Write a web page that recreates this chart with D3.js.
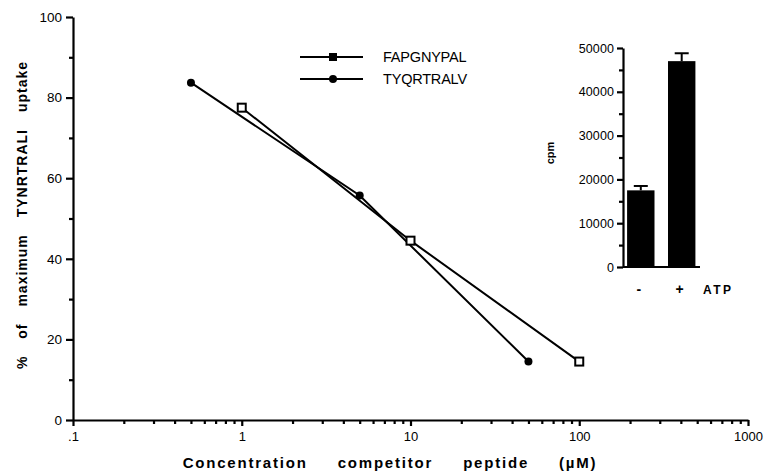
<!DOCTYPE html>
<html>
<head>
<meta charset="utf-8">
<script src="https://cdn.jsdelivr.net/npm/d3@7"></script>
<style>
  body { margin: 0; background: #fff; overflow: hidden; }
  svg { display: block; font-family: "Liberation Sans", Arial, sans-serif; }
  .tick line, .domain { stroke: #000 !important; stroke-width: 2.2px !important; }
</style>
</head>
<body>
<script>
// main chart data
const fapConc = [1, 10, 100];
const fapUptake = [77.5, 44.5, 14.5];
const tyqConc = [0.5, 5, 50];
const tyqUptake = [83.7, 55.7, 14.5];
const seriesNames = ['FAPGNYPAL', 'TYQRTRALV'];

// inset bar data
const insetCats = ['-', '+'];
const insetCpm = [17500, 47000];
const insetErr = [1000, 1800];

const yTicks = [0, 20, 40, 60, 80, 100];
const xTicks = [0.1, 1, 10, 100, 1000];
const insetTicks = [0, 10000, 20000, 30000, 40000, 50000];

const width = 765, height = 473;

const svg = d3.select('body').append('svg')
  .attr('width', width)
  .attr('height', height);

// scales
const x = d3.scaleLog().domain([0.1, 1000]).range([73, 748]);
const y = d3.scaleLinear().domain([0, 100]).range([420, 17]);

// black, thick axis strokes
function inkAxis(g) {
  g.attr('opacity', 1);
  g.selectAll('path, line')
    .attr('stroke', '#000')
    .attr('stroke-width', 2.2);
  g.selectAll('text').attr('fill', '#000');
}

// minor ticks
const xMinor = [];
[0.1, 1, 10, 100].forEach(d => { for (let k = 2; k <= 9; k++) xMinor.push(d * k); });
const yMinor = d3.range(10, 100, 20);

svg.append('g')
  .attr('transform', 'translate(0,420)')
  .call(d3.axisBottom(x).tickValues(xMinor).tickSize(4).tickFormat(''))
  .call(g => g.select('.domain').remove())
  .call(inkAxis);

svg.append('g')
  .attr('transform', 'translate(73,0)')
  .call(d3.axisLeft(y).tickValues(yMinor).tickSize(4).tickFormat(''))
  .call(g => g.select('.domain').remove())
  .call(inkAxis);

// major axes
svg.append('g')
  .attr('transform', 'translate(0,420)')
  .call(d3.axisBottom(x).tickValues(xTicks).tickSize(6).tickSizeOuter(0).tickPadding(6)
    .tickFormat(d => d === 0.1 ? '.1' : d3.format('d')(d)))
  .call(inkAxis)
  .call(g => g.selectAll('text').attr('font-size', 13));

svg.append('g')
  .attr('transform', 'translate(73,0)')
  .call(d3.axisLeft(y).tickValues(yTicks).tickSize(7).tickSizeOuter(0).tickPadding(4))
  .call(inkAxis)
  .call(g => g.selectAll('text').attr('font-size', 13.5));

// axis titles
svg.append('text')
  .attr('x', 390).attr('y', 468)
  .attr('text-anchor', 'middle')
  .attr('font-size', 15).attr('font-weight', 'bold')
  .attr('letter-spacing', 1.8).attr('word-spacing', 24)
  .text('Concentration competitor peptide (\u00b5M)');

svg.append('text')
  .attr('transform', 'translate(27,215) rotate(-90)')
  .attr('text-anchor', 'middle')
  .attr('font-size', 14).attr('font-weight', 'bold')
  .attr('letter-spacing', 1).attr('word-spacing', 12)
  .text('% of maximum TYNRTRALI uptake');

// lines
const line = d3.line().x(d => x(d[0])).y(d => y(d[1]));
const fapData = fapConc.map((c, i) => [c, fapUptake[i]]);
const tyqData = tyqConc.map((c, i) => [c, tyqUptake[i]]);

[fapData, tyqData].forEach(data => {
  svg.append('path')
    .datum(data)
    .attr('d', line)
    .attr('fill', 'none')
    .attr('stroke', '#000')
    .attr('stroke-width', 2);
});

svg.append('g').selectAll('rect')
  .data(fapData)
  .join('rect')
  .attr('x', d => x(d[0]) - 4)
  .attr('y', d => y(d[1]) - 4)
  .attr('width', 8).attr('height', 8)
  .attr('fill', '#fff').attr('stroke', '#000').attr('stroke-width', 2);

svg.append('g').selectAll('circle')
  .data(tyqData)
  .join('circle')
  .attr('cx', d => x(d[0]))
  .attr('cy', d => y(d[1]))
  .attr('r', 4)
  .attr('fill', '#000');

// legend
const legend = svg.append('g');
seriesNames.forEach((name, i) => {
  const ly = 57 + i * 22;
  legend.append('line')
    .attr('x1', 300).attr('x2', 363).attr('y1', ly).attr('y2', ly)
    .attr('stroke', '#000').attr('stroke-width', 2);
  if (i === 0) {
    legend.append('rect')
      .attr('x', 329).attr('y', ly - 4).attr('width', 8).attr('height', 8)
      .attr('fill', '#000');
  } else {
    legend.append('circle').attr('cx', 333).attr('cy', ly).attr('r', 4).attr('fill', '#000');
  }
  legend.append('text')
    .attr('x', 383).attr('y', ly + 5)
    .attr('font-size', 14.5)
    .attr('letter-spacing', -0.2)
    .text(name);
});

// inset bar chart
const ix = d3.scaleBand().domain(insetCats).range([623, 699.5]).paddingInner(0.33).paddingOuter(0.1);
const iy = d3.scaleLinear().domain([0, 50000]).range([267, 48]);

const inset = svg.append('g');

inset.append('g')
  .attr('transform', 'translate(623,0)')
  .call(d3.axisLeft(iy).tickValues(d3.range(5000, 50000, 10000)).tickSize(4).tickFormat(''))
  .call(g => g.select('.domain').remove())
  .call(inkAxis);

inset.append('g')
  .attr('transform', 'translate(623,0)')
  .call(d3.axisLeft(iy).tickValues(insetTicks).tickSize(6).tickSizeOuter(0).tickPadding(3)
    .tickFormat(d3.format('d')))
  .call(inkAxis)
  .call(g => g.selectAll('text').attr('font-size', 12.5).attr('letter-spacing', 0.1));

inset.append('line')
  .attr('x1', 623).attr('x2', 700).attr('y1', 267).attr('y2', 267)
  .attr('stroke', '#000').attr('stroke-width', 2);

inset.selectAll('rect.bar')
  .data(insetCats)
  .join('rect')
  .attr('class', 'bar')
  .attr('x', d => ix(d))
  .attr('y', (d, i) => iy(insetCpm[i]))
  .attr('width', ix.bandwidth())
  .attr('height', (d, i) => iy(0) - iy(insetCpm[i]))
  .attr('fill', '#000');

// error bars (upper half only)
insetCats.forEach((c, i) => {
  const cx = ix(c) + ix.bandwidth() / 2;
  inset.append('line')
    .attr('x1', cx).attr('x2', cx)
    .attr('y1', iy(insetCpm[i])).attr('y2', iy(insetCpm[i] + insetErr[i]))
    .attr('stroke', '#000').attr('stroke-width', 2);
  inset.append('line')
    .attr('x1', cx - 7).attr('x2', cx + 7)
    .attr('y1', iy(insetCpm[i] + insetErr[i])).attr('y2', iy(insetCpm[i] + insetErr[i]))
    .attr('stroke', '#000').attr('stroke-width', 2);
});

inset.selectAll('text.cat')
  .data(insetCats)
  .join('text')
  .attr('class', 'cat')
  .attr('x', d => ix(d) + ix.bandwidth() / 2 - 2)
  .attr('y', 294)
  .attr('text-anchor', 'middle')
  .attr('font-size', 14).attr('font-weight', 'bold')
  .text(d => d);

inset.append('text')
  .attr('x', 703).attr('y', 294)
  .attr('font-size', 12).attr('font-weight', 'bold')
  .attr('letter-spacing', 2.5)
  .text('ATP');

inset.append('text')
  .attr('transform', 'translate(554,153) rotate(-90)')
  .attr('text-anchor', 'middle')
  .attr('font-size', 11).attr('font-weight', 'bold')
  .text('cpm');

// make sure every axis stroke stays solid black
svg.selectAll('.tick line, .domain')
  .style('stroke', '#000')
  .style('stroke-width', '2.2px')
  .style('opacity', 1);
</script>
</body>
</html>
